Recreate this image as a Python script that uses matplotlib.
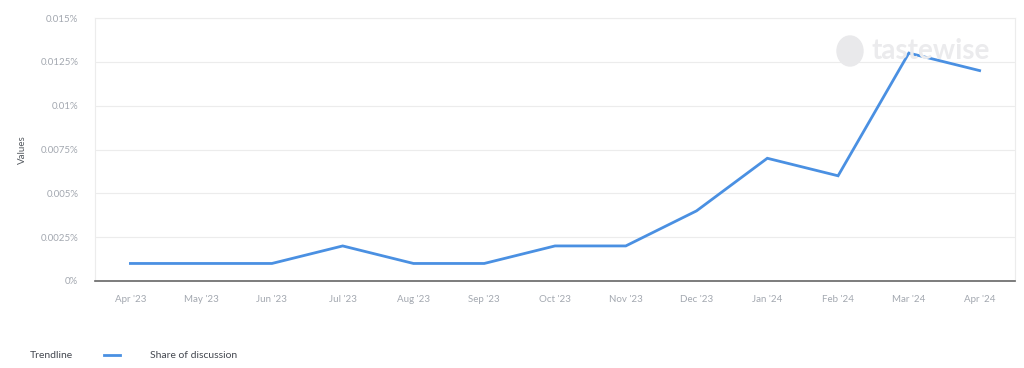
import matplotlib
matplotlib.use("Agg")
import matplotlib.pyplot as plt
from matplotlib.lines import Line2D
from matplotlib.patches import Ellipse

plt.rcParams['font.family'] = ['Lato', 'DejaVu Sans']

months = ["Apr '23", "May '23", "Jun '23", "Jul '23", "Aug '23", "Sep '23", "Oct '23",
          "Nov '23", "Dec '23", "Jan '24", "Feb '24", "Mar '24", "Apr '24"]
share = [0.001, 0.001, 0.001, 0.002, 0.001, 0.001, 0.002, 0.002, 0.004, 0.007, 0.006, 0.013, 0.012]
yticks = [0, 0.0025, 0.005, 0.0075, 0.01, 0.0125, 0.015]
ytick_labels = ["0%", "0.0025%", "0.005%", "0.0075%", "0.01%", "0.0125%", "0.015%"]

fig = plt.figure(figsize=(10.24, 3.68), dpi=100)
ax = fig.add_axes([95/1024, 1 - 281/368, 920/1024, 263/368])

x = list(range(len(months)))
ax.plot(x, share, color='#4a90e2', lw=2, solid_joinstyle='miter', zorder=3)

ax.set_xlim(-0.5, len(months) - 0.5)
ax.set_ylim(0, 0.015)
ax.set_yticks(yticks)
ax.set_yticklabels(ytick_labels)
ax.set_xticks(x)
ax.set_xticklabels(months)
ax.tick_params(axis='both', length=0, labelsize=7, colors='#a3a8b0', pad=10)
ax.tick_params(axis='y', pad=12)
ax.grid(axis='y', color='#ececec', lw=0.8)
ax.set_axisbelow(True)
for s in ['left', 'top', 'right']:
    ax.spines[s].set_color('#ececec')
    ax.spines[s].set_linewidth(0.8)
ax.spines['bottom'].set_color('#666666')
ax.spines['bottom'].set_linewidth(1.2)

fig.text(22/1024, 1 - 150/368, "Values", rotation=90, ha='center', va='center',
         fontsize=7, color='#555a60')

# watermark
fig.patches.append(Ellipse((850/1024, 1 - 51/368), 26/1024, 30/368,
                           transform=fig.transFigure, color='#e9e9eb', zorder=0))
fig.text(872/1024, 1 - 51/368, "tastewise", ha='left', va='center', fontsize=20,
         fontweight='bold', color='#ebebed', zorder=0)

# legend
fig.text(30/1024, 1 - 355/368, "Trendline", ha='left', va='center', fontsize=7.5, color='#444850')
fig.add_artist(Line2D([104/1024, 120/1024], [1 - 355/368, 1 - 355/368],
                      transform=fig.transFigure, color='#4a90e2', lw=2))
fig.text(150/1024, 1 - 355/368, "Share of discussion", ha='left', va='center', fontsize=7.5, color='#444850')

fig.savefig("out.png", dpi=100)
